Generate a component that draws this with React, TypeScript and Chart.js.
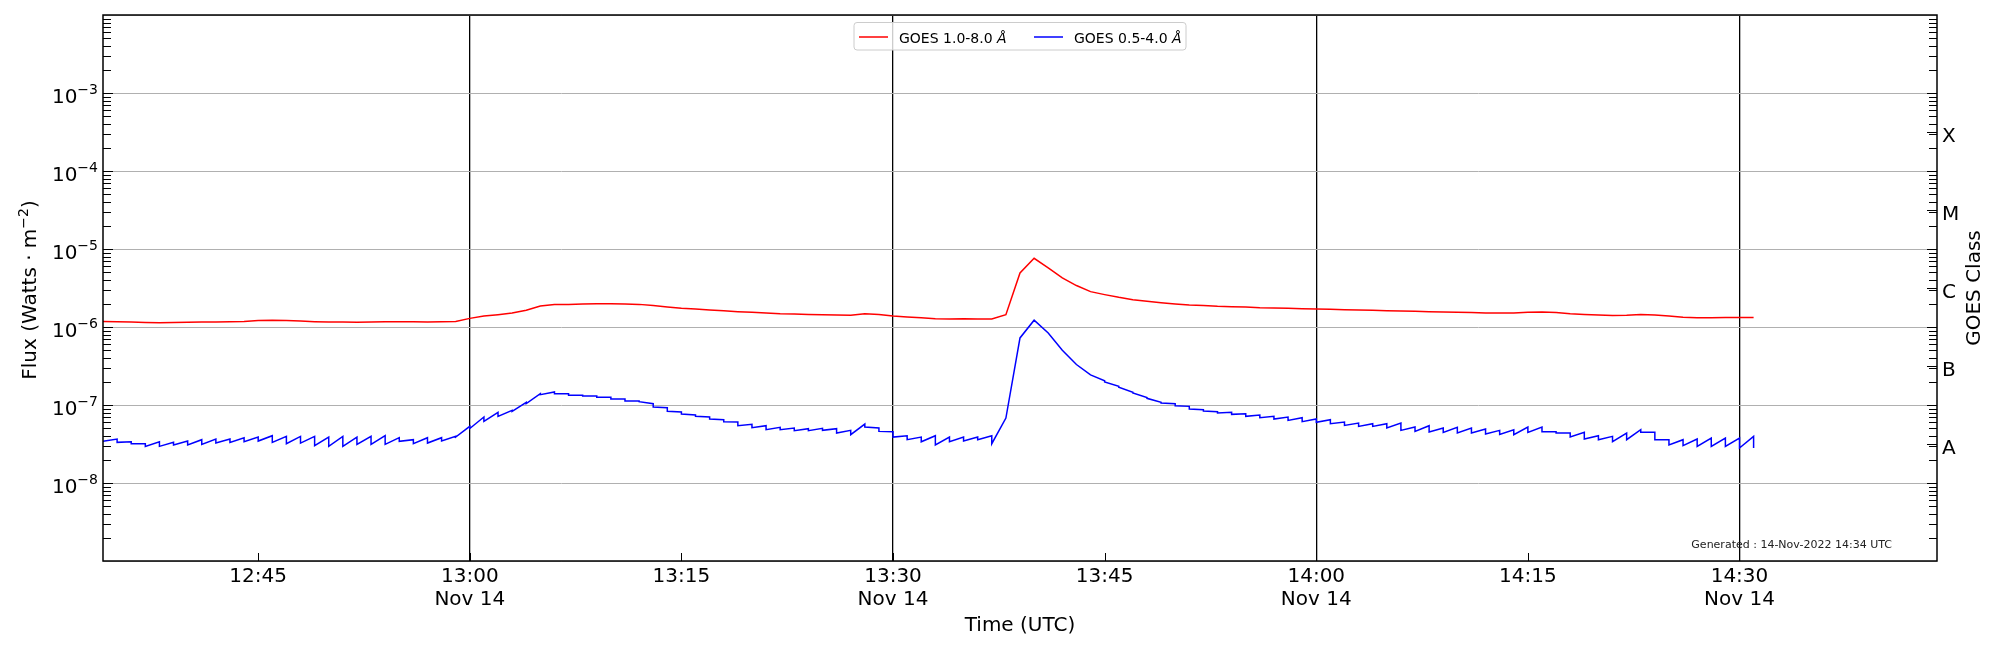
import React, { useEffect, useRef } from 'react';
import { Chart, registerables } from 'chart.js';

Chart.register(...registerables);

// ---------------- data ----------------
const START_TIME = '12:34'; // first sample (UTC), one sample per minute
const AXIS_START = '12:34';
const AXIS_END = '14:44';
const DATE_LABEL = 'Nov 14';
const TICK_TIMES = ['12:45', '13:00', '13:15', '13:30', '13:45', '14:00', '14:15', '14:30'];
const DATE_TICK_TIMES = ['13:00', '13:30', '14:00', '14:30'];
const FLUX_DECADES = [-8, -7, -6, -5, -4, -3];
const FLUX_MIN = 1e-9;
const FLUX_MAX = 1e-2;
const GOES_CLASSES = ['A', 'B', 'C', 'M', 'X'];
const GOES_CLASS_CENTERS = [-7.5, -6.5, -5.5, -4.5, -3.5];
const SERIES_LABELS = ['GOES 1.0-8.0 ', 'GOES 0.5-4.0 '];
const SERIES_UNIT = 'Å';
const GENERATED_TEXT = 'Generated : 14-Nov-2022 14:34 UTC';

// GOES 1.0-8.0 Å, one value per minute from 12:34 to 14:31
const RED_FLUX = [
  1.18e-6, 1.17e-6, 1.16e-6, 1.14e-6, 1.13e-6, 1.14e-6, 1.15e-6, 1.16e-6, 1.16e-6, 1.17e-6,
  1.18e-6, 1.21e-6, 1.22e-6, 1.21e-6, 1.19e-6, 1.17e-6, 1.16e-6, 1.16e-6, 1.15e-6, 1.16e-6,
  1.17e-6, 1.17e-6, 1.17e-6, 1.16e-6, 1.17e-6, 1.18e-6, 1.29e-6, 1.38e-6, 1.44e-6, 1.51e-6,
  1.64e-6, 1.86e-6, 1.94e-6, 1.95e-6, 1.97e-6, 1.99e-6, 1.99e-6, 1.97e-6, 1.95e-6, 1.88e-6,
  1.81e-6, 1.74e-6, 1.70e-6, 1.65e-6, 1.61e-6, 1.57e-6, 1.54e-6, 1.51e-6, 1.48e-6, 1.47e-6,
  1.45e-6, 1.44e-6, 1.43e-6, 1.41e-6, 1.48e-6, 1.45e-6, 1.38e-6, 1.34e-6, 1.31e-6, 1.28e-6,
  1.27e-6, 1.28e-6, 1.27e-6, 1.27e-6, 1.44e-6, 4.93e-6, 7.60e-6, 5.72e-6, 4.26e-6, 3.40e-6,
  2.84e-6, 2.60e-6, 2.40e-6, 2.24e-6, 2.14e-6, 2.05e-6, 1.97e-6, 1.91e-6, 1.88e-6, 1.84e-6,
  1.82e-6, 1.81e-6, 1.77e-6, 1.75e-6, 1.74e-6, 1.72e-6, 1.70e-6, 1.69e-6, 1.67e-6, 1.65e-6,
  1.64e-6, 1.62e-6, 1.60e-6, 1.59e-6, 1.57e-6, 1.56e-6, 1.55e-6, 1.53e-6, 1.51e-6, 1.51e-6,
  1.51e-6, 1.54e-6, 1.56e-6, 1.53e-6, 1.48e-6, 1.45e-6, 1.43e-6, 1.40e-6, 1.41e-6, 1.45e-6,
  1.43e-6, 1.38e-6, 1.33e-6, 1.31e-6, 1.31e-6, 1.32e-6, 1.32e-6, 1.32e-6,
];

// GOES 0.5-4.0 Å: value at the start of each minute (last entry = final sample at 14:31)
const BLUE_START = [
  3.42e-8, 3.32e-8, 3.19e-8, 2.95e-8, 2.95e-8, 3.07e-8, 3.07e-8, 3.13e-8, 3.25e-8, 3.32e-8,
  3.38e-8, 3.45e-8, 3.32e-8, 3.19e-8, 3.25e-8, 3.01e-8, 2.95e-8, 2.95e-8, 3.13e-8, 3.13e-8,
  3.13e-8, 3.42e-8, 3.19e-8, 3.25e-8, 3.45e-8, 3.88e-8, 5.0e-8, 6.17e-8, 7.15e-8, 8.29e-8,
  1.04e-7, 1.357e-7, 1.398e-7, 1.331e-7, 1.305e-7, 1.254e-7, 1.194e-7, 1.125e-7, 1.104e-7, 9.43e-8,
  8.29e-8, 7.66e-8, 7.15e-8, 6.61e-8, 6.11e-8, 5.43e-8, 5.12e-8, 4.82e-8, 4.82e-8, 4.68e-8,
  4.68e-8, 4.73e-8, 4.37e-8, 4.16e-8, 5.22e-8, 4.59e-8, 3.88e-8, 3.59e-8, 3.38e-8, 3.07e-8,
  3.38e-8, 3.45e-8, 3.59e-8, 3.19e-8, 6.81e-8, 7.24e-7, 1.222e-6, 8.40e-7, 5.04e-7, 3.30e-7,
  2.43e-7, 1.97e-7, 1.69e-7, 1.426e-7, 1.218e-7, 1.061e-7, 9.80e-8, 8.89e-8, 8.38e-8, 7.90e-8,
  7.59e-8, 7.15e-8, 6.88e-8, 6.61e-8, 6.35e-8, 6.11e-8, 5.99e-8, 5.76e-8, 5.48e-8, 5.32e-8,
  5.32e-8, 5.07e-8, 4.73e-8, 4.59e-8, 4.50e-8, 4.46e-8, 4.37e-8, 4.37e-8, 4.24e-8, 4.20e-8,
  4.16e-8, 4.46e-8, 4.55e-8, 4.37e-8, 3.88e-8, 3.66e-8, 3.59e-8, 3.38e-8, 3.59e-8, 4.46e-8,
  3.59e-8, 3.07e-8, 3.01e-8, 2.95e-8, 2.95e-8, 2.95e-8, 2.81e-8, 2.81e-8,
];

// GOES 0.5-4.0 Å: value at the end of each minute (just before the next sample)
const BLUE_END = [
  3.66e-8, 3.38e-8, 3.19e-8, 3.38e-8, 3.32e-8, 3.45e-8, 3.59e-8, 3.66e-8, 3.66e-8, 3.81e-8,
  3.88e-8, 4.04e-8, 3.96e-8, 3.96e-8, 3.96e-8, 3.88e-8, 3.96e-8, 3.88e-8, 3.96e-8, 4.04e-8,
  3.81e-8, 3.59e-8, 3.81e-8, 3.81e-8, 3.96e-8, 5.32e-8, 7.01e-8, 8.05e-8, 8.54e-8, 1.082e-7,
  1.398e-7, 1.469e-7, 1.398e-7, 1.331e-7, 1.305e-7, 1.254e-7, 1.194e-7, 1.125e-7, 1.04e-7, 9.24e-8,
  8.13e-8, 7.44e-8, 7.01e-8, 6.48e-8, 6.05e-8, 5.65e-8, 5.43e-8, 5.17e-8, 5.07e-8, 4.97e-8,
  5.02e-8, 4.97e-8, 4.73e-8, 5.70e-8, 5.07e-8, 4.55e-8, 4.04e-8, 3.88e-8, 4.04e-8, 3.88e-8,
  3.88e-8, 3.88e-8, 4.04e-8, 6.81e-8, 7.24e-7, 1.222e-6, 8.40e-7, 5.04e-7, 3.30e-7, 2.43e-7,
  2.05e-7, 1.74e-7, 1.454e-7, 1.242e-7, 1.082e-7, 1.04e-7, 9.61e-8, 8.71e-8, 8.21e-8, 8.05e-8,
  7.74e-8, 7.44e-8, 7.15e-8, 7.01e-8, 6.88e-8, 6.61e-8, 6.48e-8, 6.05e-8, 5.87e-8, 5.76e-8,
  5.76e-8, 5.87e-8, 5.22e-8, 5.43e-8, 5.07e-8, 5.17e-8, 5.07e-8, 4.92e-8, 4.73e-8, 4.82e-8,
  5.22e-8, 5.22e-8, 4.55e-8, 4.37e-8, 4.46e-8, 4.04e-8, 3.96e-8, 4.37e-8, 4.82e-8, 4.46e-8,
  3.59e-8, 3.59e-8, 3.66e-8, 3.77e-8, 3.77e-8, 3.77e-8, 3.96e-8,
];

// ---------------- helpers ----------------
const toMin = (s: string) => {
  const [h, m] = s.split(':').map(Number);
  return h * 60 + m;
};
const fmtMin = (v: number) => {
  const h = Math.floor(v / 60);
  const m = Math.round(v - h * 60);
  return `${String(h).padStart(2, '0')}:${String(m).padStart(2, '0')}`;
};
const FONT = '"DejaVu Sans", "Liberation Sans", sans-serif';
const TICK_VALUES = TICK_TIMES.map(toMin);
const DATE_TICK_VALUES = DATE_TICK_TIMES.map(toMin);

const decorPlugin = {
  id: 'goesDecor',
  afterDraw(chart: any) {
    const { ctx, chartArea: a, scales } = chart;
    const xs = scales.x;
    const ys = scales.y;
    ctx.save();

    // tick marks (inward)
    ctx.strokeStyle = '#000';
    ctx.lineWidth = 1;
    ctx.beginPath();
    for (let e = -9; e < -2; e++) {
      for (let m = 1; m <= 9; m++) {
        const v = m * Math.pow(10, e);
        if (v <= FLUX_MIN || v >= FLUX_MAX) continue;
        const y = Math.round(ys.getPixelForValue(v)) + 0.5;
        const len = m === 1 ? 10 : 8;
        ctx.moveTo(a.left, y);
        ctx.lineTo(a.left + len, y);
        ctx.moveTo(a.right, y);
        ctx.lineTo(a.right - len, y);
      }
    }
    GOES_CLASS_CENTERS.forEach((c) => {
      const y = Math.round(ys.getPixelForValue(Math.pow(10, c))) + 0.5;
      ctx.moveTo(a.right, y);
      ctx.lineTo(a.right - 10, y);
    });
    TICK_VALUES.forEach((t) => {
      const x = Math.round(xs.getPixelForValue(t)) + 0.5;
      ctx.moveTo(x, a.bottom);
      ctx.lineTo(x, a.bottom - 8);
    });
    ctx.stroke();

    // frame
    ctx.lineWidth = 1.5;
    ctx.strokeRect(a.left, a.top, a.right - a.left, a.bottom - a.top);

    ctx.fillStyle = '#000';
    // y tick labels: 10^e
    FLUX_DECADES.forEach((e) => {
      const y = ys.getPixelForValue(Math.pow(10, e));
      const sup = '\u2212' + Math.abs(e);
      ctx.font = `14px ${FONT}`;
      const supW = ctx.measureText(sup).width;
      const right = a.left - 5;
      ctx.textAlign = 'left';
      ctx.textBaseline = 'alphabetic';
      ctx.fillText(sup, right - supW, y + 1);
      ctx.font = `20px ${FONT}`;
      ctx.textAlign = 'right';
      ctx.fillText('10', right - supW, y + 10);
    });

    // x tick labels
    ctx.font = `20px ${FONT}`;
    ctx.textAlign = 'center';
    ctx.textBaseline = 'alphabetic';
    TICK_VALUES.forEach((t) => {
      const x = xs.getPixelForValue(t);
      ctx.fillText(fmtMin(t), x, a.bottom + 21);
      if (DATE_TICK_VALUES.includes(t)) ctx.fillText(DATE_LABEL, x, a.bottom + 44);
    });

    // x title
    ctx.fillText('Time (UTC)', (a.left + a.right) / 2, a.bottom + 70);

    // y title (left) with superscript
    {
      const cy = (a.top + a.bottom) / 2 + 2;
      const p1 = 'Flux (Watts \u00b7 m';
      const p2 = '\u22122';
      const p3 = ')';
      ctx.save();
      ctx.translate(35.5, cy);
      ctx.rotate(-Math.PI / 2);
      ctx.textAlign = 'left';
      ctx.font = `20px ${FONT}`;
      const w1 = ctx.measureText(p1).width;
      const w3 = ctx.measureText(p3).width;
      ctx.font = `14px ${FONT}`;
      const w2 = ctx.measureText(p2).width;
      let x0 = -(w1 + w2 + w3) / 2;
      ctx.font = `20px ${FONT}`;
      ctx.fillText(p1, x0, 0);
      x0 += w1;
      ctx.font = `14px ${FONT}`;
      ctx.fillText(p2, x0, -8);
      x0 += w2;
      ctx.font = `20px ${FONT}`;
      ctx.fillText(p3, x0, 0);
      ctx.restore();
    }

    // right title
    ctx.save();
    ctx.translate(a.right + 43, (a.top + a.bottom) / 2);
    ctx.rotate(-Math.PI / 2);
    ctx.font = `20px ${FONT}`;
    ctx.textAlign = 'center';
    ctx.fillText('GOES Class', 0, 0);
    ctx.restore();

    // class labels
    ctx.font = `20px ${FONT}`;
    ctx.textAlign = 'left';
    GOES_CLASSES.forEach((lab, i) => {
      const y = ys.getPixelForValue(Math.pow(10, GOES_CLASS_CENTERS[i]));
      ctx.fillText(lab, a.right + 5, y + 10);
    });

    // generated text
    ctx.font = `11px ${FONT}`;
    ctx.fillStyle = '#222';
    ctx.textAlign = 'right';
    ctx.fillText(GENERATED_TEXT, a.right - 45, a.bottom - 13);

    // legend
    {
      const cx = (a.left + a.right) / 2;
      const bw = 332;
      const bh = 27.5;
      const bx = cx - bw / 2;
      const by = a.top + 7.5;
      ctx.beginPath();
      if (ctx.roundRect) ctx.roundRect(bx, by, bw, bh, 3);
      else ctx.rect(bx, by, bw, bh);
      ctx.fillStyle = 'rgba(255,255,255,0.8)';
      ctx.fill();
      ctx.strokeStyle = '#cccccc';
      ctx.lineWidth = 1;
      ctx.stroke();
      const colors = chart.data.datasets.map((d: any) => d.borderColor);
      const offsets = [0, 175];
      SERIES_LABELS.forEach((lab, i) => {
        const ox = bx + offsets[i];
        const ly = by + 14.5;
        ctx.strokeStyle = colors[i];
        ctx.lineWidth = 1.5;
        ctx.beginPath();
        ctx.moveTo(ox + 5, ly);
        ctx.lineTo(ox + 34, ly);
        ctx.stroke();
        ctx.fillStyle = '#000';
        ctx.textAlign = 'left';
        ctx.font = `14px ${FONT}`;
        ctx.fillText(lab, ox + 45, by + 20);
        const w = ctx.measureText(lab).width;
        ctx.font = `italic 14px ${FONT}`;
        ctx.fillText(SERIES_UNIT, ox + 45 + w, by + 20);
      });
    }

    ctx.restore();
  },
};

export default function App() {
  const ref = useRef<HTMLCanvasElement>(null);

  useEffect(() => {
    const canvas = ref.current;
    if (!canvas) return;
    const t0 = toMin(START_TIME);
    const redPts = RED_FLUX.map((v, i) => ({ x: t0 + i, y: v }));
    const bluePts: { x: number; y: number }[] = [];
    BLUE_END.forEach((v, i) => {
      bluePts.push({ x: t0 + i, y: BLUE_START[i] });
      bluePts.push({ x: t0 + i + 1, y: v });
    });
    bluePts.push({ x: t0 + BLUE_END.length, y: BLUE_START[BLUE_END.length] });

    const chart = new Chart(canvas, {
      type: 'line',
      data: {
        datasets: [
          {
            label: SERIES_LABELS[0] + SERIES_UNIT,
            data: redPts,
            borderColor: '#ff0000',
            borderWidth: 1.5,
            pointRadius: 0,
            tension: 0,
            yAxisID: 'y',
          },
          {
            label: SERIES_LABELS[1] + SERIES_UNIT,
            data: bluePts,
            borderColor: '#0000ff',
            borderWidth: 1.5,
            pointRadius: 0,
            tension: 0,
            yAxisID: 'y',
          },
        ],
      },
      options: {
        animation: false,
        responsive: false,
        devicePixelRatio: 1,
        layout: { padding: { top: 15, left: 0, right: 0, bottom: 0 } },
        plugins: { legend: { display: false }, tooltip: { enabled: false }, title: { display: false } },
        scales: {
          x: {
            type: 'linear',
            min: toMin(AXIS_START),
            max: toMin(AXIS_END),
            afterBuildTicks: (s: any) => {
              s.ticks = TICK_VALUES.map((v) => ({ value: v }));
            },
            ticks: { display: false },
            grid: {
              color: (c: any) => (c.tick && DATE_TICK_VALUES.includes(c.tick.value) ? '#000000' : 'rgba(0,0,0,0)'),
              lineWidth: 1.3,
              drawTicks: false,
            },
            border: { display: false },
            afterFit: (s: any) => {
              s.height = 89;
            },
          },
          y: {
            type: 'logarithmic',
            position: 'left',
            min: FLUX_MIN,
            max: FLUX_MAX,
            afterBuildTicks: (s: any) => {
              const t = [];
              for (let e = -9; e <= -2; e++) t.push({ value: Math.pow(10, e) });
              s.ticks = t;
            },
            ticks: { display: false },
            grid: { color: '#b0b0b0', lineWidth: 1, drawTicks: false },
            border: { display: false },
            afterFit: (s: any) => {
              s.width = 103;
            },
          },
          y2: {
            type: 'logarithmic',
            position: 'right',
            min: FLUX_MIN,
            max: FLUX_MAX,
            ticks: { display: false },
            grid: { display: false, drawTicks: false },
            border: { display: false },
            afterFit: (s: any) => {
              s.width = 63;
            },
          },
        },
      },
      plugins: [decorPlugin],
    } as any);

    return () => chart.destroy();
  }, []);

  return (
    <div style={{ position: 'absolute', left: 0, top: 0, width: 2000, height: 650, background: '#ffffff' }}>
      <canvas ref={ref} width={2000} height={650} style={{ display: 'block', width: 2000, height: 650 }} />
    </div>
  );
}
